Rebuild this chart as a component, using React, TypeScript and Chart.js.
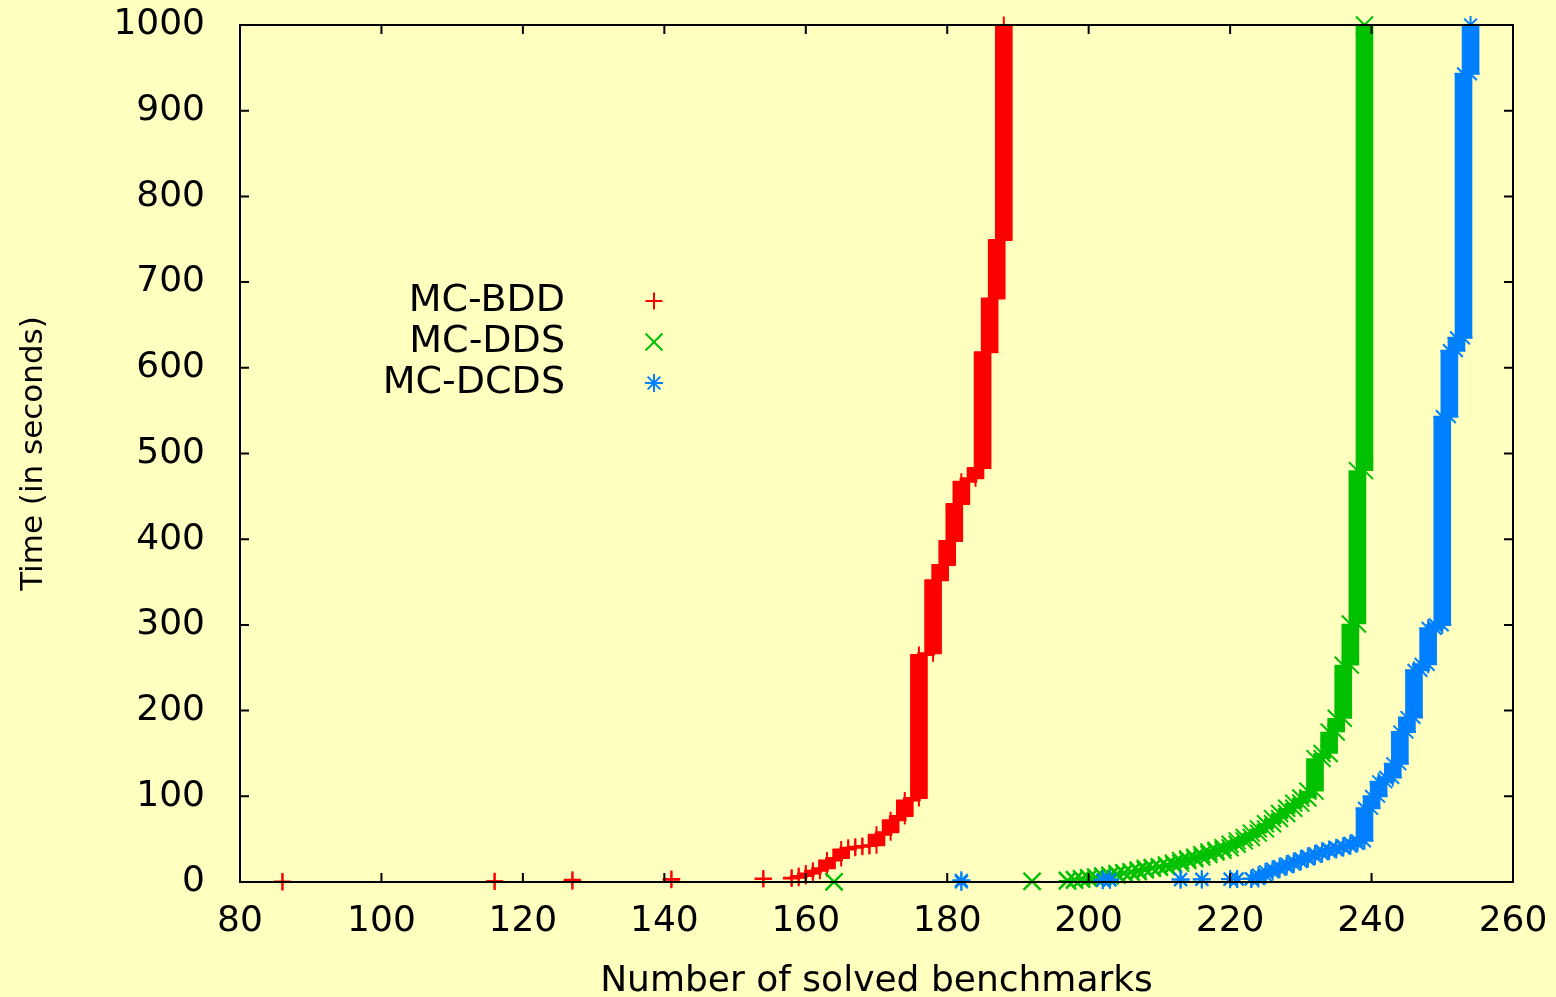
import React, { useEffect, useRef } from 'react';
import { Chart, registerables } from 'chart.js';

Chart.register(...registerables);

// ---- axis ranges ----
const X_MIN = 80;
const X_MAX = 260;
const X_STEP = 20;
const Y_MIN = 0;
const Y_MAX = 1000;
const Y_STEP = 100;
const TIMEOUT = 1000;

const X_TITLE = 'Number of solved benchmarks';
const Y_TITLE = 'Time (in seconds)';

// ---- series ----
const seriesNames = ['MC-BDD', 'MC-DDS', 'MC-DCDS'];
const seriesColors = ['#ff0000', '#00c000', '#0080ff'];

// number of solved benchmarks, and the time (s) at which that count is reached
const bddSolved = [86, 116, 127, 141, 154, 158, 159, 160, 161, 162, 163, 164, 165, 166, 167, 168, 169, 170, 171, 172, 173, 174, 175, 176, 177, 178, 179, 180, 181, 182, 183, 184, 185, 186, 187, 188];
const bddTime = [0, 0.5, 1, 2.5, 3.5, 4, 5, 7, 10, 13, 16, 25, 28, 38, 40, 41, 42, 43, 55, 58, 72, 77, 95, 98, 265, 267, 352, 370, 398, 441, 467, 471, 483, 618, 681, 749];

const ddsSolved = [164, 192, 197, 198, 199, 200, 201, 202, 203, 204, 205, 206, 207, 208, 209, 210, 211, 212, 213, 214, 215, 216, 217, 218, 219, 220, 221, 222, 223, 224, 225, 226, 227, 228, 229, 230, 231, 232, 233, 234, 235, 236, 237, 238, 239];
const ddsTime = [0, 0.5, 1, 2, 3, 4, 5, 6, 7, 8, 10, 11, 12, 14, 16, 17, 18, 20, 22, 25, 27, 29, 32, 35, 37, 40, 44, 48, 52, 57, 62, 68, 74, 80, 86, 92, 98, 106, 144, 150, 175, 191, 253, 301, 480];

const dcdsSolved = [182, 202, 203, 213, 216, 220, 221, 223, 224, 225, 226, 227, 228, 229, 230, 231, 232, 233, 234, 235, 236, 237, 238, 239, 240, 241, 242, 243, 244, 245, 246, 247, 248, 249, 250, 251, 252, 253, 254];
const dcdsTime = [0, 2, 2.5, 2.8, 3, 3.2, 3.4, 3.6, 4, 8, 12, 15, 18, 21, 24, 27, 30, 33, 36, 38, 40, 42, 45, 48, 86, 100, 117, 122, 138, 175, 192, 247, 254, 296, 300, 543, 620, 635, 943];

const seriesSolved = [bddSolved, ddsSolved, dcdsSolved];
const seriesTime = [bddTime, ddsTime, dcdsTime];

// ---- styles ----
const BG = '#ffffc0';
const FONT = '"DejaVu Sans", sans-serif';
const markerStyles = ['cross', 'crossRot', 'star'];
const markerRadius = [8.5, 12, 9];

function spans(ns: number[], ts: number[]) {
  return ns.map((x, i) => ({ x, y: [ts[i], i < ns.length - 1 ? ts[i + 1] : TIMEOUT] }));
}
function ends(ns: number[], ts: number[]) {
  const pts: { x: number; y: number }[] = [];
  ns.forEach((x, i) => {
    pts.push({ x, y: ts[i] });
    pts.push({ x, y: i < ns.length - 1 ? ts[i + 1] : TIMEOUT });
  });
  return pts;
}

const bgPlugin = {
  id: 'bgFill',
  beforeDraw(chart: any) {
    const { ctx, width, height } = chart;
    ctx.save();
    ctx.fillStyle = BG;
    ctx.fillRect(0, 0, width, height);
    ctx.restore();
  },
};

const framePlugin = {
  id: 'gnuplotFrame',
  afterDatasetsDraw(chart: any) {
    const { ctx, chartArea, scales } = chart;
    const { left, right, top, bottom } = chartArea;
    const L = 9;
    ctx.save();
    ctx.strokeStyle = '#000';
    ctx.lineWidth = 2;
    ctx.strokeRect(left, top, right - left, bottom - top);
    ctx.beginPath();
    scales.x.ticks.forEach((t: any) => {
      const px = scales.x.getPixelForValue(t.value);
      ctx.moveTo(px, bottom);
      ctx.lineTo(px, bottom - L);
      ctx.moveTo(px, top);
      ctx.lineTo(px, top + L);
    });
    scales.y.ticks.forEach((t: any) => {
      const py = scales.y.getPixelForValue(t.value);
      ctx.moveTo(left, py);
      ctx.lineTo(left + L, py);
      ctx.moveTo(right, py);
      ctx.lineTo(right - L, py);
    });
    ctx.stroke();
    ctx.restore();
  },
};

function drawMarker(ctx: CanvasRenderingContext2D, style: string, x: number, y: number, r: number) {
  ctx.beginPath();
  if (style === 'cross' || style === 'star') {
    ctx.moveTo(x - r, y);
    ctx.lineTo(x + r, y);
    ctx.moveTo(x, y - r);
    ctx.lineTo(x, y + r);
  }
  if (style === 'crossRot' || style === 'star') {
    const d = r * Math.SQRT1_2;
    ctx.moveTo(x - d, y - d);
    ctx.lineTo(x + d, y + d);
    ctx.moveTo(x - d, y + d);
    ctx.lineTo(x + d, y - d);
  }
  ctx.stroke();
}

const keyPlugin = {
  id: 'gnuplotKey',
  afterDraw(chart: any) {
    const { ctx, chartArea } = chart;
    const textRight = chartArea.left + 325;
    const markX = chartArea.left + 414;
    const firstY = chartArea.top + 276;
    const rowH = 41;
    ctx.save();
    ctx.font = `38px ${FONT}`;
    ctx.textAlign = 'right';
    ctx.textBaseline = 'middle';
    seriesNames.forEach((name, i) => {
      const y = firstY + i * rowH;
      ctx.fillStyle = '#000';
      ctx.fillText(name, textRight, y);
      ctx.strokeStyle = seriesColors[i];
      ctx.lineWidth = 2;
      drawMarker(ctx, markerStyles[i], markX, y, markerRadius[i]);
    });
    ctx.restore();
  },
};

export default function App() {
  const canvasRef = useRef<HTMLCanvasElement | null>(null);

  useEffect(() => {
    document.body.style.margin = '0';
    document.body.style.background = BG;
    const canvas = canvasRef.current;
    if (!canvas) return;

    const datasets: any[] = [];
    seriesNames.forEach((name, i) => {
      datasets.push({
        type: 'bar',
        label: name,
        data: spans(seriesSolved[i], seriesTime[i]),
        backgroundColor: seriesColors[i],
        borderWidth: 0,
        barThickness: 17,
        grouped: false,
        clip: false,
        order: 5 - i * 2,
      });
      datasets.push({
        type: 'scatter',
        label: name + ' points',
        data: ends(seriesSolved[i], seriesTime[i]),
        showLine: false,
        pointStyle: markerStyles[i],
        pointRadius: markerRadius[i],
        pointBorderWidth: 2,
        borderColor: seriesColors[i],
        backgroundColor: seriesColors[i],
        clip: false,
        order: 4 - i * 2,
      });
    });

    const chart = new Chart(canvas, {
      type: 'bar',
      data: { datasets },
      plugins: [bgPlugin, framePlugin, keyPlugin],
      options: {
        animation: false,
        responsive: false,
        events: [],
        layout: { padding: { top: 25, right: 43, bottom: 0, left: 0 } },
        plugins: {
          legend: { display: false },
          tooltip: { enabled: false },
        },
        scales: {
          x: {
            type: 'linear',
            min: X_MIN,
            max: X_MAX,
            offset: false,
            grid: { display: false, drawTicks: false },
            border: { display: false },
            ticks: {
              stepSize: X_STEP,
              color: '#000',
              padding: 18,
              maxRotation: 0,
              font: { family: FONT, size: 36 },
              callback: (v: any) => String(v),
            },
            title: {
              display: true,
              text: X_TITLE,
              color: '#000',
              padding: { top: 0, bottom: -3 },
              font: { family: FONT, size: 36, lineHeight: 1 },
            },
            afterFit: (s: any) => {
              s.height = 115;
              s.paddingLeft = 0;
              s.paddingRight = 0;
            },
          },
          y: {
            type: 'linear',
            min: Y_MIN,
            max: Y_MAX,
            grid: { display: false, drawTicks: false },
            border: { display: false },
            ticks: {
              stepSize: Y_STEP,
              color: '#000',
              padding: 35,
              font: { family: FONT, size: 36 },
              callback: (v: any) => String(v),
            },
            title: {
              display: true,
              text: Y_TITLE,
              color: '#000',
              padding: { top: 18, bottom: 0 },
              font: { family: FONT, size: 31, lineHeight: 1 },
            },
            afterFit: (s: any) => {
              s.width = 240;
              s.paddingTop = 0;
              s.paddingBottom = 0;
            },
          },
        },
      } as any,
    });

    return () => {
      chart.destroy();
    };
  }, []);

  return (
    <div style={{ position: 'fixed', left: 0, top: 0, width: 1556, height: 997, background: BG }}>
      <canvas ref={canvasRef} width={1556} height={997} style={{ display: 'block' }} />
    </div>
  );
}
